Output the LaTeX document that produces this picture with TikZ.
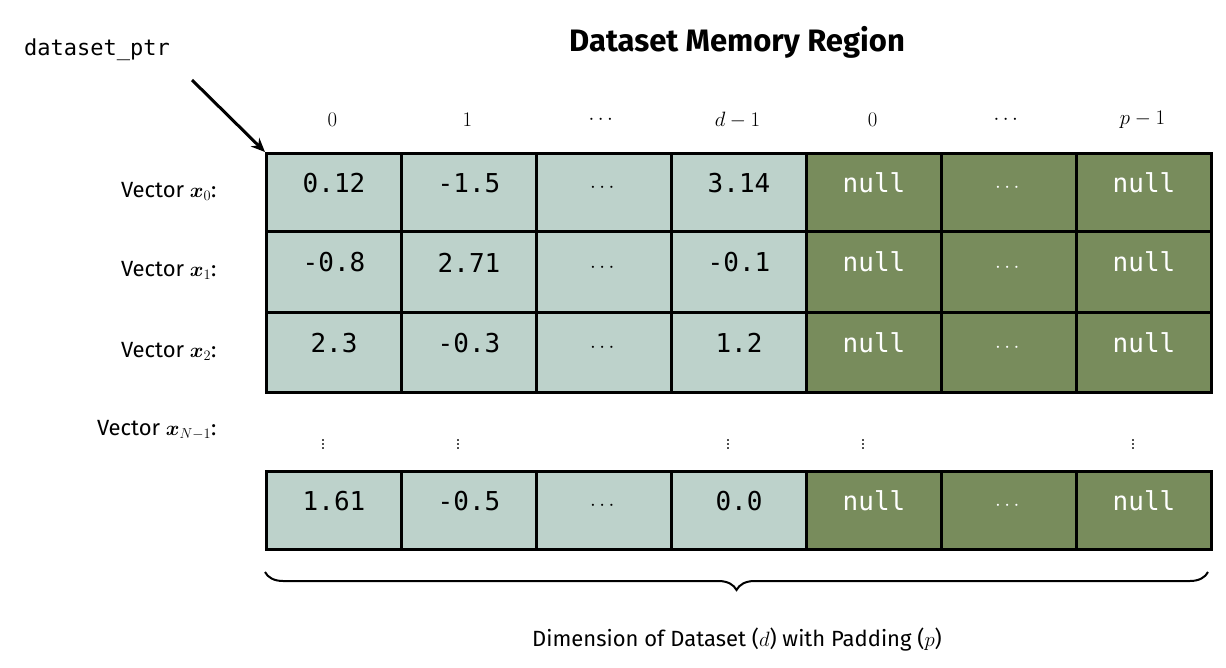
\documentclass[tikz,border=0pt]{standalone}
\usepackage{amsmath,bm}
\usepackage{fontspec}
\setsansfont{Fira Sans}
\setmonofont{DejaVu Sans Mono}
\usetikzlibrary{decorations.pathreplacing,arrows.meta}
\definecolor{lightc}{HTML}{BDD2CB}
\definecolor{darkc}{HTML}{788C5C}
\begin{document}
\begin{tikzpicture}[x=1pt,y=-1pt,
  cell/.style={draw=black,line width=3pt,minimum width=135pt,anchor=north west,inner sep=0pt,font=\ttfamily\fontsize{26}{30}\selectfont},
  lc/.style={cell,fill=lightc},
  dc/.style={cell,fill=darkc,text=white},
  lab/.style={anchor=east,font=\sffamily\fontsize{22}{26}\selectfont},
  hdr/.style={font=\fontsize{22}{26}\selectfont}]
\useasboundingbox (0,0) rectangle (1226,667);
\node[font=\sffamily\bfseries\fontsize{31}{36}\selectfont] (title) at (737,42) {Dataset Memory Region};
\node[font=\ttfamily\fontsize{22}{26}\selectfont] (ptr) at (97,50) {dataset\_ptr};
\foreach \i/\t in {0/0,1/1,2/\cdots,3/d-1,4/0,5/\cdots,6/p-1}
  \node[hdr] (h\i) at (332.5+135*\i,120) {$\t$};
\foreach \r/\y/\ht/\a/\b/\c in {0/152/78/0.12/-1.5/3.14, 1/230/81/-0.8/2.71/-0.1, 2/311/80/2.3/-0.3/1.2, 3/470/78/1.61/-0.5/0.0}{
  \node[lc,minimum height=\ht pt] (c\r0) at (265,\y) {\a};
  \node[lc,minimum height=\ht pt] (c\r1) at (400,\y) {\b};
  \node[lc,minimum height=\ht pt,font=\fontsize{22}{26}\selectfont] (c\r2) at (535,\y) {$\cdots$};
  \node[lc,minimum height=\ht pt] (c\r3) at (670,\y) {\c};
  \node[dc,minimum height=\ht pt] (c\r4) at (805,\y) {null};
  \node[dc,minimum height=\ht pt,font=\fontsize{22}{26}\selectfont] (c\r5) at (940,\y) {$\cdots$};
  \node[dc,minimum height=\ht pt] (c\r6) at (1075,\y) {null};
}
\node[lab] (v0) at (220,191) {Vector $\bm{x}_0$:};
\node[lab] (v1) at (220,270) {Vector $\bm{x}_1$:};
\node[lab] (v2) at (220,351) {Vector $\bm{x}_2$:};
\node[lab] (v3) at (220,430) {Vector $\bm{x}_{N-1}$:};
\foreach \i in {0,1,3,4,6}
  \node[font=\fontsize{24}{28}\selectfont] (vd\i) at (323+135*\i,442) {$\vdots$};
\draw[line width=3pt,-{Stealth[length=14pt,width=12pt]}] (192,80) -- (c00.north west);
\coordinate (bl) at (265,572);
\coordinate (br) at (1208,572);
\draw[line width=2pt,decorate,decoration={brace,mirror,amplitude=18pt}] (bl) -- (br);
\node[font=\sffamily\fontsize{22}{26}\selectfont] (cap) at (737,640) {Dimension of Dataset ($d$) with Padding ($p$)};
\end{tikzpicture}
\end{document}
